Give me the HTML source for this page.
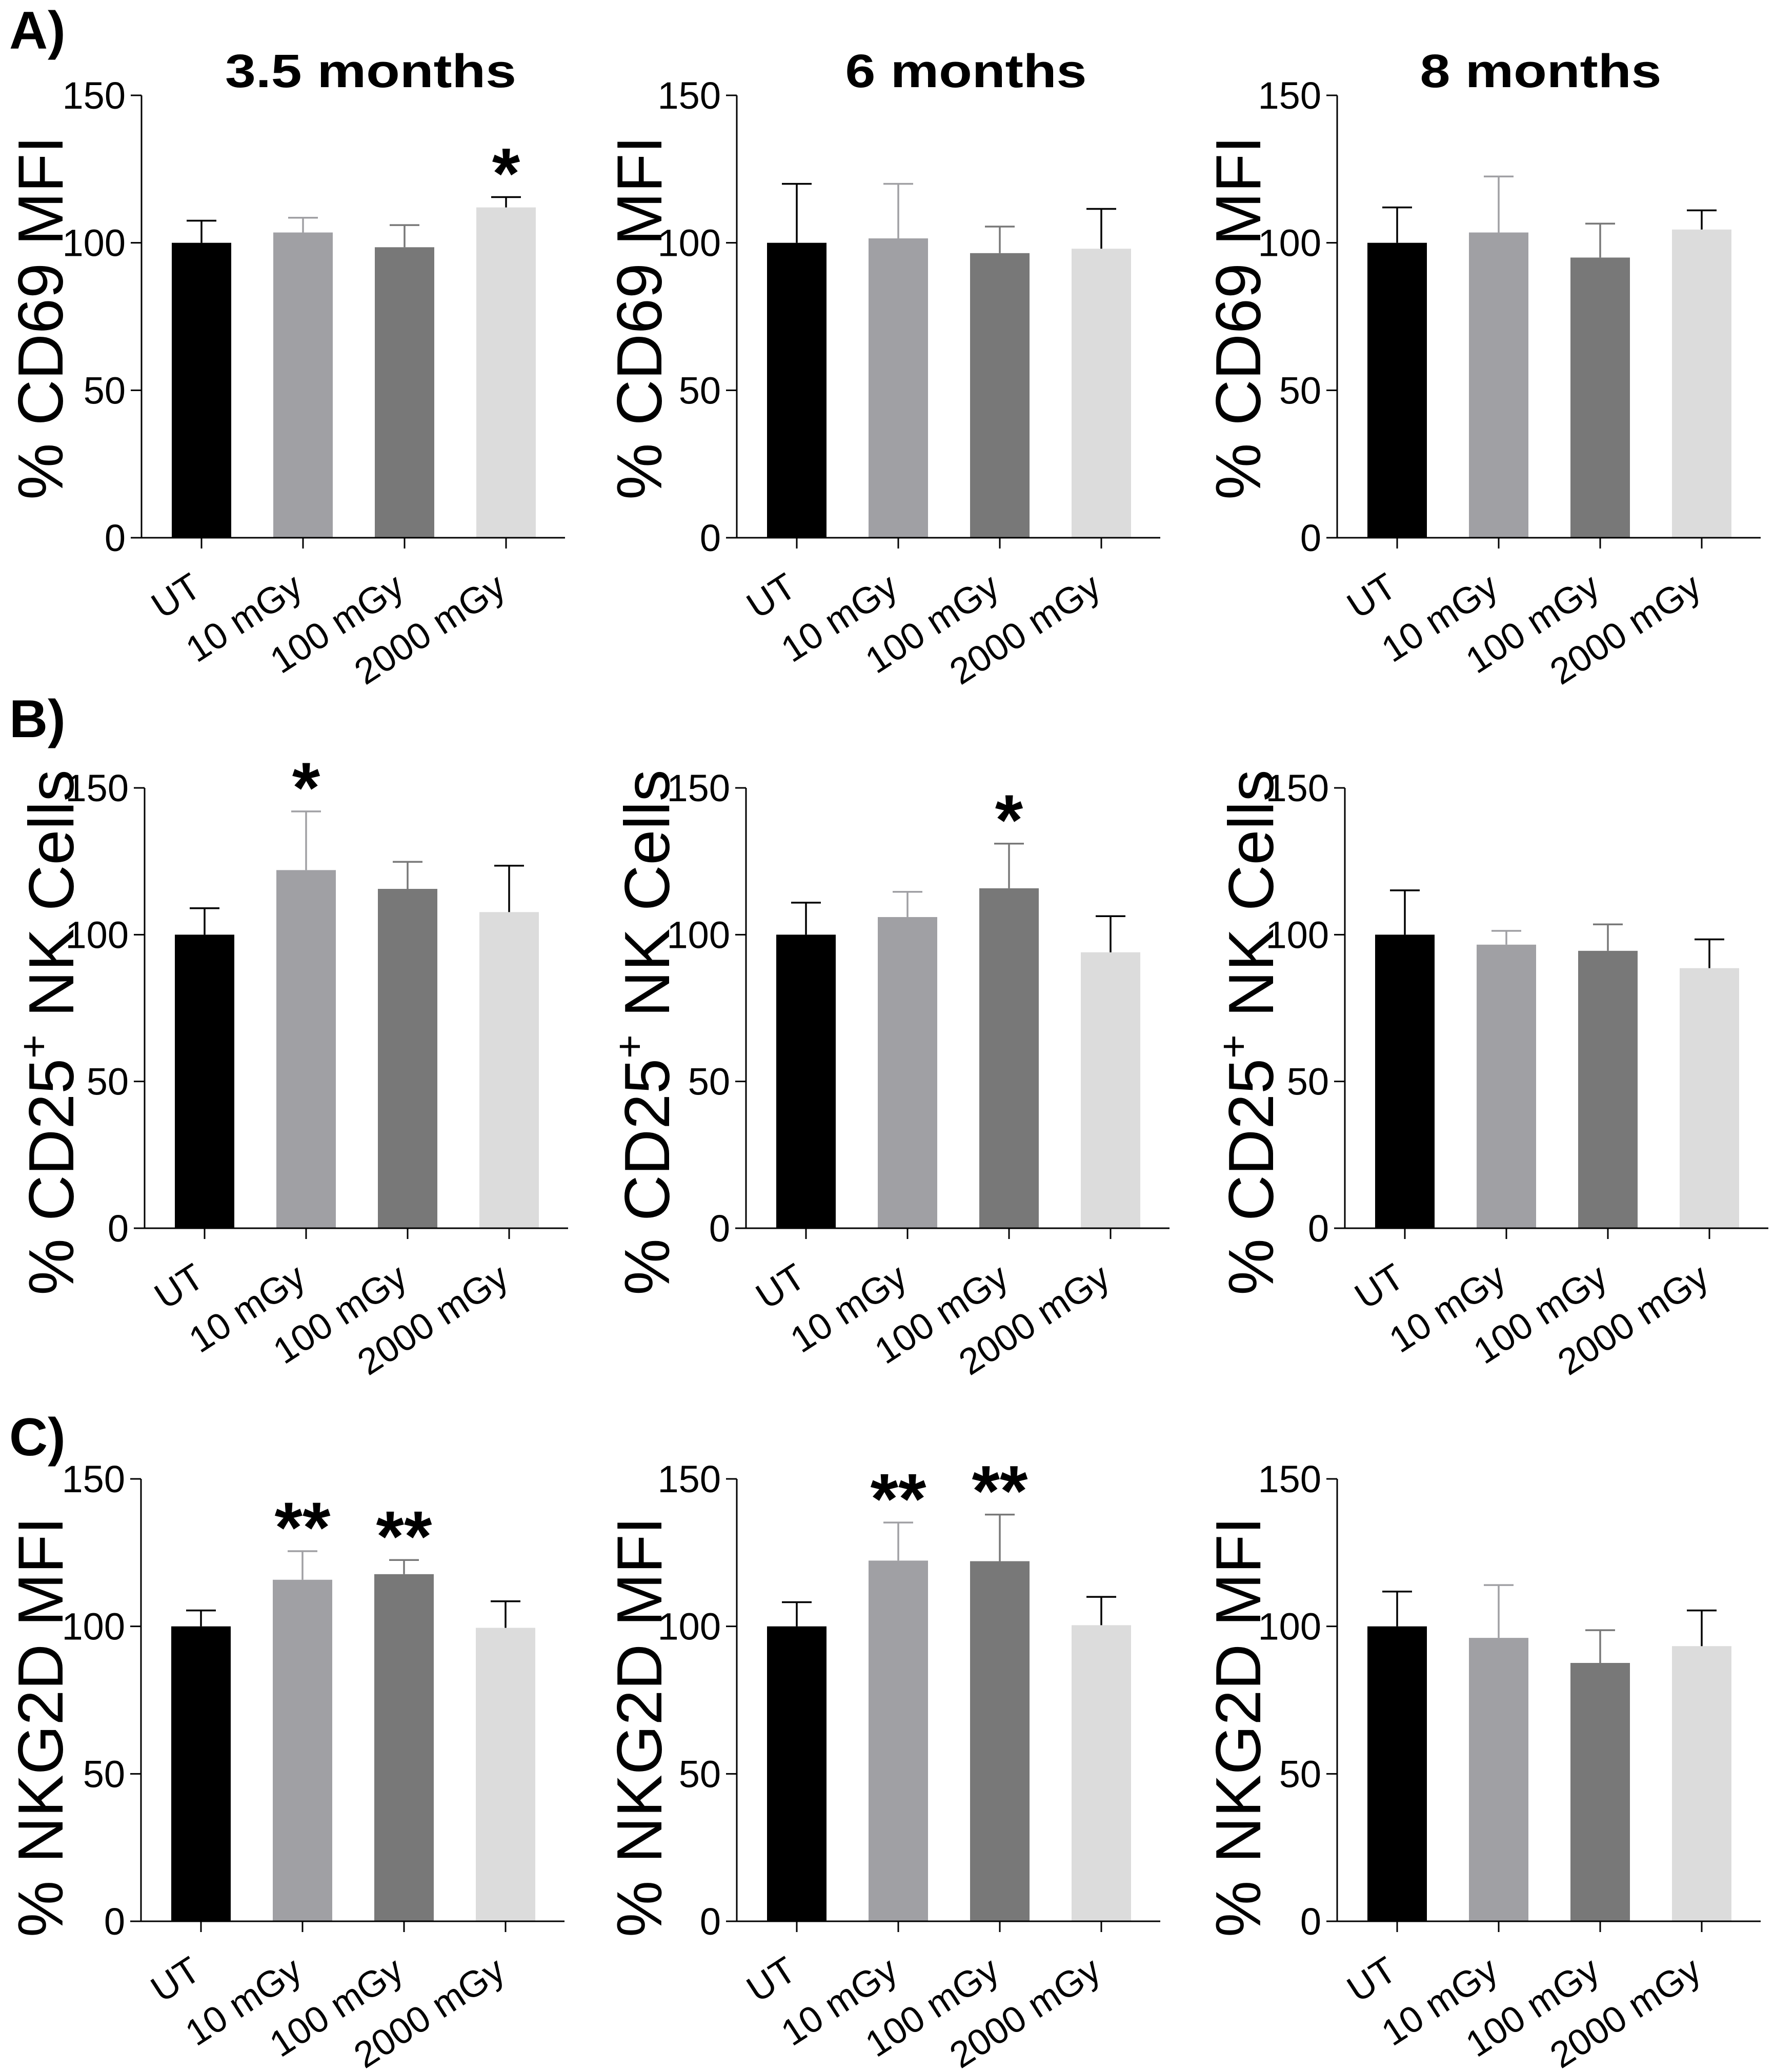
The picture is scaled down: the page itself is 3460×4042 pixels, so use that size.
<!DOCTYPE html>
<html><head><meta charset="utf-8"><style>
html,body{margin:0;padding:0;background:#fff;}
svg{display:block;font-family:"Liberation Sans",Arial,sans-serif;}
</style></head><body>
<svg id="fig" width="3460" height="4042" viewBox="0 0 3460 4042" xmlns="http://www.w3.org/2000/svg"></svg>
<script>
const categories = ["UT","10 mGy","100 mGy","2000 mGy"];
const yTicks = [0,50,100,150];
const colTitles = ["3.5 months","6 months","8 months"];
const rowTitles = ["% CD69 MFI","% CD25+ NK Cells","% NKG2D MFI"];
const rowLetters = ["A)","B)","C)"];
const meansA = [[100,103.5,98.5,112],[100,101.5,96.5,98],[100,103.5,95,104.5]];
const errsA  = [[107.5,108.5,106,115.5],[120,120,105.5,111.5],[112,122.5,106.5,111]];
const starsA = [["","","","*"],["","","",""],["","","",""]];
const meansB = [[100,122,115.6,107.7],[100,106,115.8,94],[100,96.6,94.5,88.6]];
const errsB  = [[109,142,124.8,123.5],[110.9,114.6,131,106.3],[115.1,101.3,103.5,98.4]];
const starsB = [["","*","",""],["","","*",""],["","","",""]];
const meansC = [[100,115.8,117.7,99.5],[100,122.3,122.1,100.4],[100,96.1,87.6,93.3]];
const errsC  = [[105.4,125.5,122.5,108.5],[108.2,135.2,137.9,110],[111.8,114,98.7,105.4]];
const starsC = [["","**","**",""],["","**","**",""],["","","",""]];

const NS="http://www.w3.org/2000/svg";
const svg=document.getElementById('fig');
function mk(tag,attrs,parent){const e=document.createElementNS(NS,tag);for(const k in attrs)e.setAttribute(k,attrs[k]);(parent||svg).appendChild(e);return e;}
const fills=["#000000","#a0a0a4","#787878","#dcdcdc"];
const errCols=["#000000","#a0a0a4","#787878","#000000"];
const rows=[
 {top:186,bot:1049,axes:[276,1437,2608],tb:[-154,-147,-150],cy:620,means:meansA,errs:errsA,stars:starsA,lbl:95},
 {top:1537,bot:2396,axes:[282,1455,2623],tb:[-139,-150,-140],cy:2014,means:meansB,errs:errsB,stars:starsB,lbl:1438},
 {top:2885,bot:3748,axes:[275,1437,2608],tb:[-153,-147,-150],cy:3369,means:meansC,errs:errsC,stars:starsC,lbl:2839}
];
const titleOff=[447,447,397];
rows.forEach((r,ri)=>{
  const L=mk('text',{x:18,y:r.lbl,'font-size':104,'font-weight':'bold'});
  L.textContent=rowLetters[ri];
  
  
  r.axes.forEach((ax,pi)=>{
    const g=mk('g',{});
    
    
    const ys=v=>r.bot-(v/150)*(r.bot-r.top);
    const xs=i=>ax+59+i*198;
    const ya=mk('line',{x1:ax,y1:r.top,x2:ax,y2:r.bot,stroke:'#000','stroke-width':3},g);
    
    
    yTicks.forEach(t=>{
      mk('line',{x1:ax-21,y1:ys(t),x2:ax,y2:ys(t),stroke:'#000','stroke-width':3},g);
      const tl=mk('text',{x:ax-31,y:ys(t)+26,'font-size':74,'text-anchor':'end'},g);
      tl.textContent=t;
      
      
    });
    categories.forEach((c,i)=>{
      const m=r.means[pi][i], e=r.errs[pi][i];
      const x=xs(i), cx=x+58;
      const b=mk('rect',{x:x,y:ys(m),width:116,height:r.bot-ys(m),fill:fills[i]},g);
      
      
      mk('line',{x1:cx,y1:ys(m),x2:cx,y2:ys(e),stroke:errCols[i],'stroke-width':3.5},g);
      mk('line',{x1:cx-29,y1:ys(e),x2:cx+29,y2:ys(e),stroke:errCols[i],'stroke-width':3.5},g);
      const s=r.stars[pi][i];
      if(s){
        const st=mk('text',{x:cx,y:ys(e)+2,'font-size':140,'font-weight':'bold','text-anchor':'middle'},g);
        st.textContent=s;
        
        
      }
      mk('line',{x1:cx,y1:r.bot,x2:cx,y2:r.bot+21,stroke:'#000','stroke-width':3},g);
      const ax2=cx+4, ay2=r.bot+108;
      const xl=mk('text',{x:ax2,y:ay2,'font-size':72,'text-anchor':'end',transform:'rotate(-33 '+ax2+' '+ay2+')'},g);
      xl.textContent=c;
      
      
    });
    const xa=mk('line',{x1:ax-21,y1:r.bot,x2:ax+826,y2:r.bot,stroke:'#000','stroke-width':3},g);
    
    
    const bx=ax+r.tb[pi];
    const yt=mk('text',{x:bx,y:r.cy,'font-size':124,'text-anchor':'middle',transform:'rotate(-90 '+bx+' '+r.cy+')'},g);
    const txt=rowTitles[ri];
    if(txt.indexOf('+')>=0){
      const parts=txt.split('+');
      const t1=mk('tspan',{},yt);t1.textContent=parts[0];
      const t2=mk('tspan',{dy:-50,'font-size':80},yt);t2.textContent='+';
      const t3=mk('tspan',{dy:50},yt);t3.textContent=parts[1];
    } else yt.textContent=txt;
    
    
    if(ri===0){
      const w = pi===0?568:471;
      const ct=mk('text',{x:ax+titleOff[pi],y:170,'font-size':92,'font-weight':'bold','text-anchor':'middle',textLength:w,lengthAdjust:'spacingAndGlyphs'},g);
      ct.textContent=colTitles[pi];
      
      
    }
  });
});
</script>
</body></html>
